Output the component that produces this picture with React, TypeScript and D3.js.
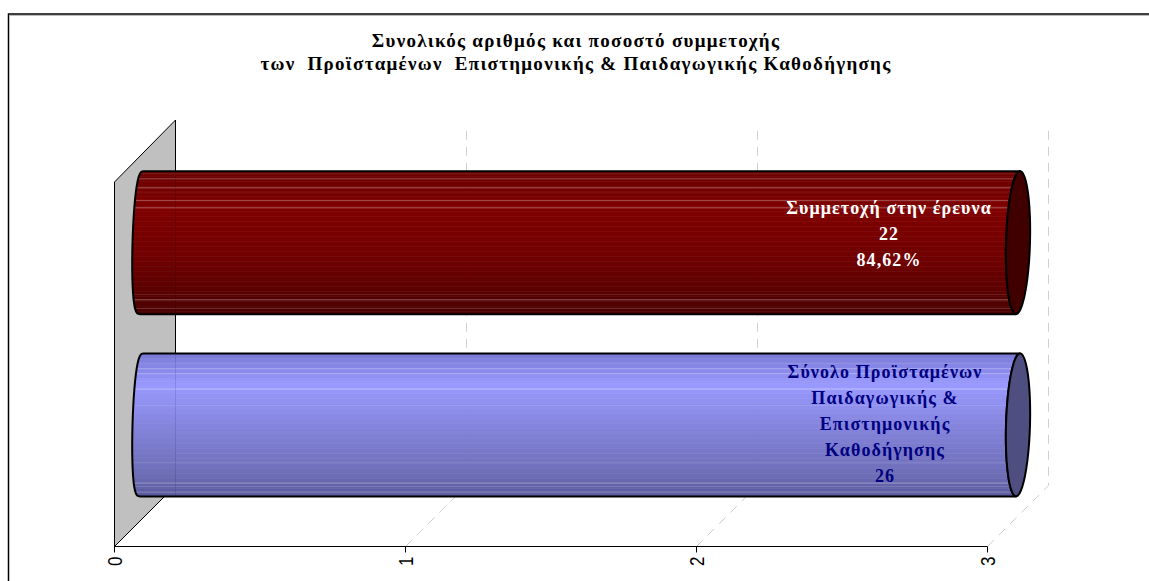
import React from "react";
import * as d3 from "d3";

const titleLines = [
  "Συνολικός αριθμός και ποσοστό συμμετοχής",
  "των  Προϊσταμένων  Επιστημονικής & Παιδαγωγικής Καθοδήγησης",
];
const categories = ["participation", "total"];
const values = [22, 26];
const axisTicks = [0, 1, 2, 3];
const participationLabel = ["Συμμετοχή στην έρευνα", "22", "84,62%"];
const totalLabel = ["Σύνολο Προϊσταμένων", "Παιδαγωγικής &", "Επιστημονικής", "Καθοδήγησης", "26"];

const W = 1149, H = 581;
const SERIF = "'Liberation Serif','Times New Roman',serif";
const SANS = "'Liberation Sans',Arial,sans-serif";
const x0 = 114.5, x3 = 987.5, yBase = 546.5, yTopFront = 182;
const DX = 61, DY = 61;

const styles = [
  {
    stops: [[0, "#6c0000"], [0.25, "#800000"], [0.6, "#700000"], [0.85, "#580000"], [1, "#480000"]] as [number, string][],
    cap: "#400000",
    text: "#ffffff",
    lines: [2.7, 7.7, 16.7, 21.7, 29.3, 36.7, 123.3, 128.7, 137.3],
    lineOp: [0.12, 0.3, 0.35, 0.08, 0.3, 0.35, 0.12, 0.35, 0.2],
    label: participationLabel,
    labelX: 889,
    labelY: [214, 240, 266],
  },
  {
    stops: [[0, "#7c7cd8"], [0.2, "#9999ff"], [0.55, "#8080d6"], [0.85, "#6c6cb4"], [1, "#56569a"]] as [number, string][],
    cap: "#4e4e80",
    text: "#000080",
    lines: [9.7, 15.3, 20.3, 28.3, 35.7, 52.3, 109.3, 129.7, 133, 138.7],
    lineOp: [0.1, 0.25, 0.25, 0.08, 0.4, 0.15, 0.12, 0.3, 0.15, 0.25],
    label: totalLabel,
    labelX: 885,
    labelY: [378, 404, 430, 456, 482],
  },
];

const x = d3.scaleLinear().domain([0, 3]).range([x0, x3]).clamp(true);
const y = d3.scaleBand().domain(categories).range([yTopFront - DY / 2, yBase - DY / 2]).paddingInner(0).paddingOuter(0);

function capPoints(cx: number, cy: number, rx: number, ry: number, from: number, to: number, n: number, pow = 1) {
  return d3.range(n + 1).map((i) => {
    const t = from + ((to - from) * i) / n;
    const s = Math.sin(t);
    const c = Math.cos(t);
    const sx = Math.sign(c) * Math.pow(Math.abs(c), pow);
    return [cx + rx * sx - 2 * s, cy + ry * s] as [number, number];
  });
}
const poly = d3.line();

function Bar({ i }: { i: number }) {
  const st = styles[i];
  const cat = categories[i];
  const bw = y.bandwidth();
  const cy = y(cat)! + bw / 2;
  const ry = 71.5;
  const xl = x(0) + DX / 2 - 3.5;
  const xr = x(values[i]) + DX / 2;
  const top = cy - ry;
  const left = capPoints(xl, cy, 9, ry, (3 * Math.PI) / 2, Math.PI / 2, 24, 0.7);
  const right = capPoints(xr, cy, 12, ry, Math.PI / 2, (3 * Math.PI) / 2, 24);
  const body = poly([...left, ...right])! + "Z";
  const capPath = poly(capPoints(xr, cy, 12, ry, 0, Math.PI * 2, 48))! + "Z";
  const col = d3
    .scaleLinear<string>()
    .domain(st.stops.map((d) => d[0]))
    .range(st.stops.map((d) => d[1]))
    .interpolate(d3.interpolateRgb);
  const bands = d3.range(0, 2 * ry, 5);
  return (
    <g>
      <clipPath id={"clip" + i}>
        <path d={body} />
      </clipPath>
      <g clipPath={`url(#clip${i})`}>
        {bands.map((b) => (
          <rect key={b} x={xl - 20} y={top + b} width={xr - xl + 40} height={5.5} fill={col(b / (2 * ry))} />
        ))}
        {st.lines.map((l, k) => (
          <line key={k} x1={xl - 20} x2={xr + 20} y1={top + l} y2={top + l} stroke="#fff" strokeOpacity={st.lineOp[k]} />
        ))}
        <line x1={x0 + DX} x2={x0 + DX} y1={top} y2={top + 2 * ry} stroke="#000" strokeOpacity={0.1} />
      </g>
      <path d={body} fill="none" stroke="#000" strokeWidth={2} strokeLinejoin="round" />
      <path d={capPath} fill={st.cap} stroke="#000" strokeWidth={2} strokeLinejoin="round" />
      {st.label.map((t, k) => (
        <text key={k} x={st.labelX} y={st.labelY[k]} textAnchor="middle" fontFamily={SERIF} fontWeight="bold" fontSize={18} letterSpacing={1.1} fill={st.text}>
          {t}
        </text>
      ))}
    </g>
  );
}

export default function App() {
  return (
    <svg width={W} height={H} viewBox={`0 0 ${W} ${H}`} style={{ position: "absolute", left: 0, top: 0, background: "#fff" }}>
      <path d={`M8.5 ${H}V14H${W}`} fill="none" stroke="#000" strokeWidth={1.5} />
      <line x1={9} x2={W} y1={15.5} y2={15.5} stroke="#bbb" />
      {titleLines.map((t, i) => (
        <text key={i} x={576} y={47 + i * 23} textAnchor="middle" fontFamily={SERIF} fontWeight="bold" fontSize={19} letterSpacing={1.28} style={{ whiteSpace: "pre" }}>
          {t}
        </text>
      ))}
      <polygon points={`${x0},${yTopFront} ${x0 + DX},${yTopFront - DY - 1} ${x0 + DX},${yBase - DY} ${x0},${yBase}`} fill="#c0c0c0" stroke="#000" strokeWidth={1} />
      {axisTicks.slice(1).map((t) => (
        <path key={t} d={`M${x(t)} ${yBase}L${x(t) + DX} ${yBase - DY}V${yTopFront - DY + 5}`} fill="none" stroke="#cfcfcf" strokeWidth={1} strokeDasharray="9 7" />
      ))}
      <Bar i={0} />
      <Bar i={1} />
      <line x1={x0} x2={x3} y1={yBase} y2={yBase} stroke="#000" strokeWidth={1} />
      {axisTicks.map((t) => (
        <g key={t} transform={`translate(${x(t)},${yBase})`}>
          <line y2={6} stroke="#000" />
          <text transform="translate(0,10) rotate(-90) scale(1,1.2)" textAnchor="end" dominantBaseline="central" fontFamily={SANS} fontSize={17}>
            {t}
          </text>
        </g>
      ))}
    </svg>
  );
}
